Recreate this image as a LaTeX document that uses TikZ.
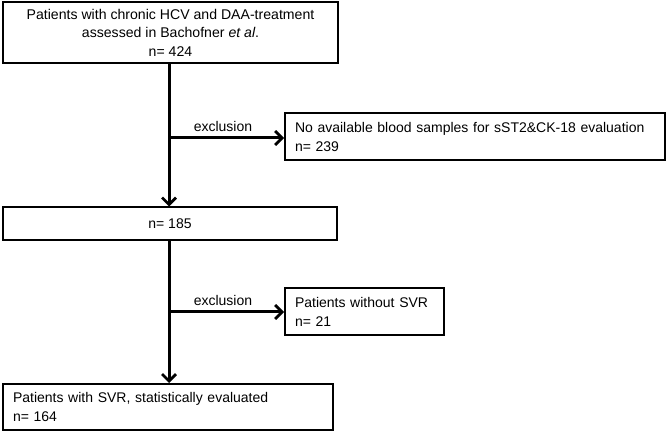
\documentclass[tikz,border=0pt]{standalone}
\usepackage{fontspec}
\setmainfont{Liberation Sans}
\usetikzlibrary{arrows.meta}
\begin{document}
\begin{tikzpicture}[x=1pt,y=-1pt,
  box/.style={draw,line width=2pt,inner sep=0pt},
  flow/.style={line width=3pt,-{Straight Barb[length=7pt,width=14pt,line width=2.8pt]}},
  lbl/.style={font=\fontsize{14}{17}\selectfont,inner sep=0pt}]
\useasboundingbox (0,0) rectangle (669,435);
\node[box,minimum width=335pt,minimum height=61pt,align=center,font=\fontsize{14.1}{18.5}\selectfont] (b1) at (170.5,32.5)
  {Patients with chronic HCV and DAA-treatment\\assessed in Bachofner \textit{et al}.\\n= 424};
\node[box,minimum width=334pt,minimum height=33pt,font=\fontsize{14}{17}\selectfont] (b2) at (170,224) {n= 185};
\node[box,minimum width=380pt,minimum height=47pt,align=left,text width=360pt,font=\fontsize{14}{19}\selectfont] (b3) at (475,136.5)
  {No available blood samples for sST2\&CK-18 evaluation\\n= 239};
\node[box,minimum width=159pt,minimum height=47pt,align=left,text width=139pt,font=\fontsize{14}{19}\selectfont] (b5) at (364.5,311.5)
  {Patients without SVR\\n= 21};
\node[box,minimum width=330pt,minimum height=46pt,align=left,text width=310pt,font=\fontsize{14}{19}\selectfont] (b4) at (168,407)
  {Patients with SVR, statistically evaluated\\n= 164};
\coordinate (j1) at (169,138);
\coordinate (j2) at (169,312);
\draw[flow] (b1.south -| j1) -- (b2.north -| j1);
\draw[flow] (j1) -- (b3.west |- j1);
\draw[flow] (b2.south -| j2) -- (b4.north -| j2);
\draw[flow] (j2) -- (b5.west |- j2);
\node[lbl] (e1) at (223,126) {exclusion};
\node[lbl] (e2) at (223,300) {exclusion};
\end{tikzpicture}
\end{document}
